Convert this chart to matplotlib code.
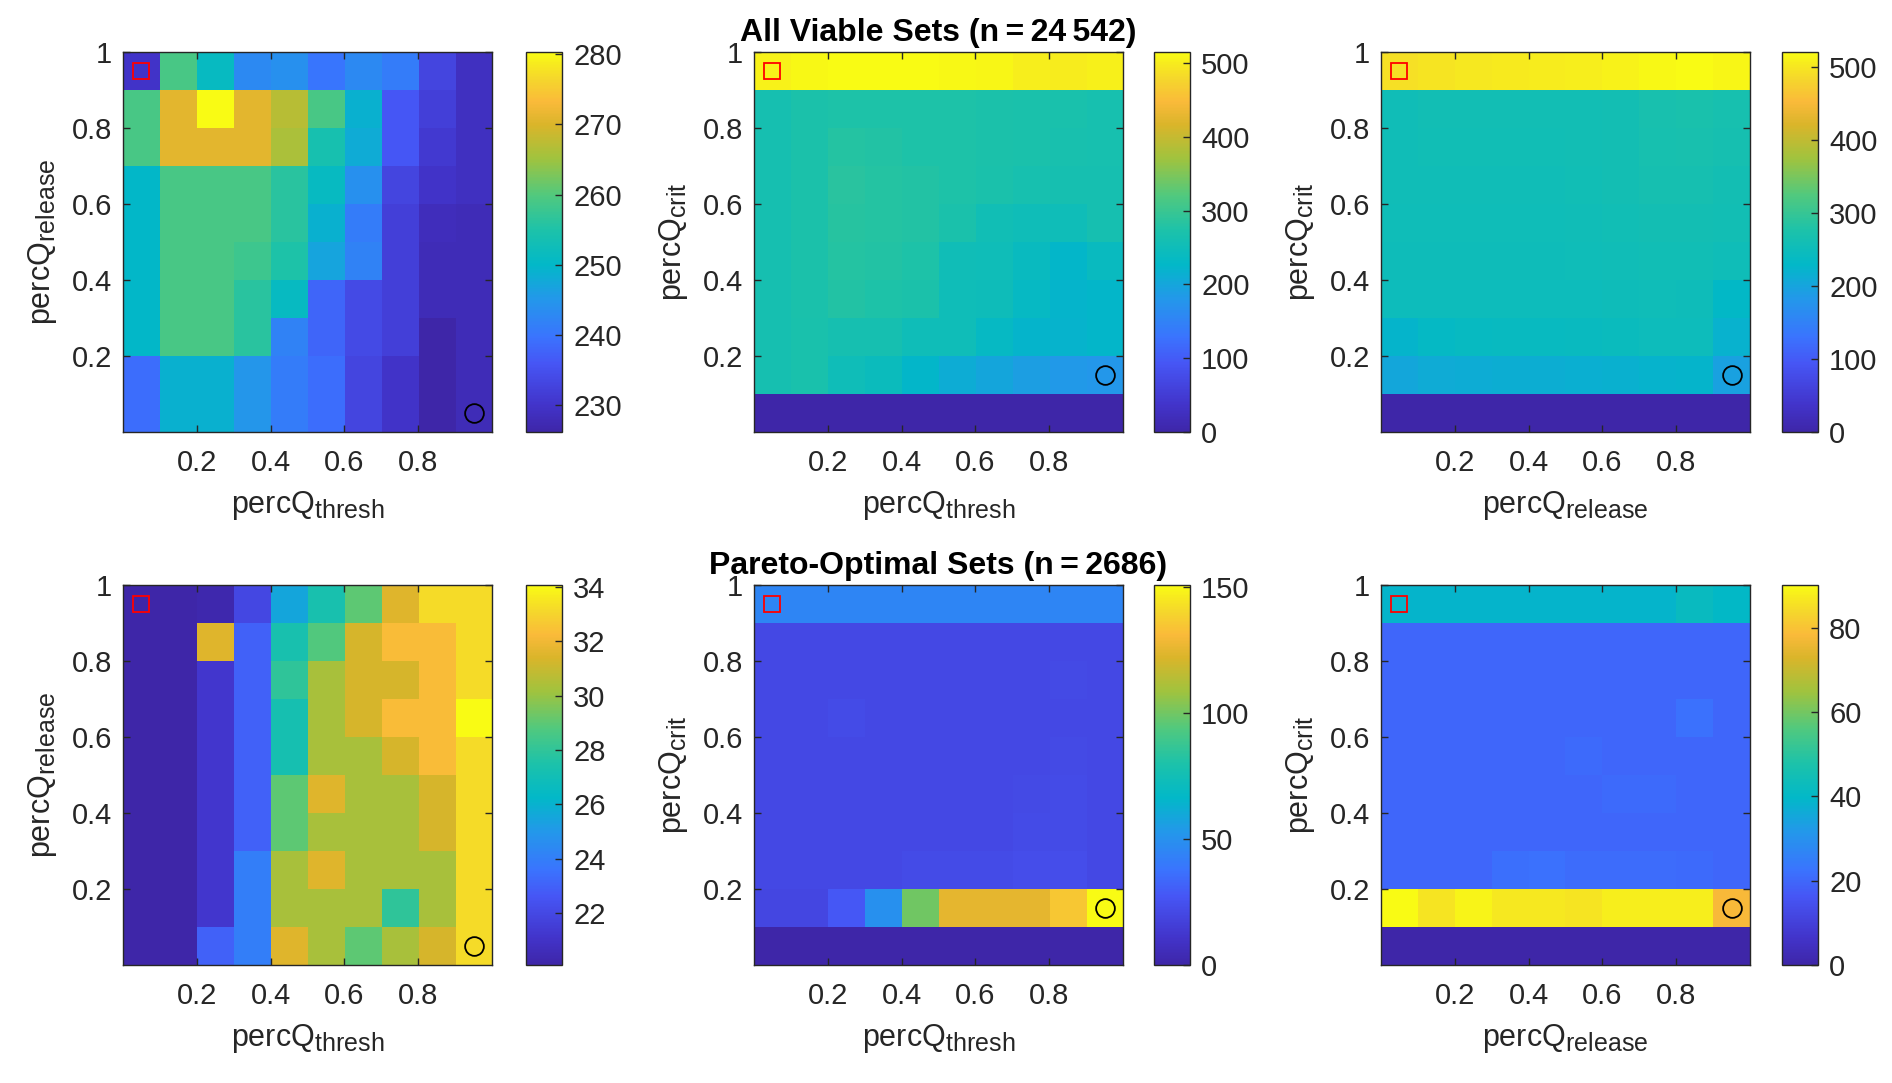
import numpy as np
import matplotlib
matplotlib.use("Agg")
import matplotlib.pyplot as plt
import matplotlib._mathtext as _mathtext
from matplotlib.colors import LinearSegmentedColormap

plt.rcParams['font.family'] = ['Liberation Sans', 'DejaVu Sans']
plt.rcParams['mathtext.fontset'] = 'custom'
plt.rcParams['mathtext.rm'] = 'Liberation Sans'
# MATLAB subscripts are larger than matplotlib's default 0.7
_mathtext.SHRINK_FACTOR = 0.82

# parula-like colormap (MATLAB default), anchors picked off the reference colorbars
parula_stops = [
    (0.00, (62, 38, 168)),
    (0.07, (66, 52, 202)),
    (0.18, (70, 86, 245)),
    (0.25, (58, 116, 254)),
    (0.35, (35, 152, 234)),
    (0.44, (2, 184, 200)),
    (0.53, (28, 194, 170)),
    (0.625, (82, 201, 125)),
    (0.72, (160, 195, 62)),
    (0.81, (218, 181, 42)),
    (0.87, (250, 186, 58)),
    (0.93, (245, 214, 44)),
    (1.00, (249, 251, 20)),
]
parula = LinearSegmentedColormap.from_list(
    'parula', [(p, tuple(v / 255 for v in c)) for p, c in parula_stops], N=256)

# rows listed from top (0.95) to bottom (0.05), columns 0.05 .. 0.95
all_thresh_release = [
    [230, 259, 251, 243, 244, 240, 243, 241, 233, 229],
    [259, 271, 280.3, 271, 267, 259, 249, 236, 232, 229],
    [259, 271, 271, 271, 266, 254, 248, 236, 231, 229],
    [250, 259, 259, 259, 256, 251, 244, 233, 230, 229],
    [250, 259, 259, 259, 256, 249, 241, 232, 228.5, 228],
    [250, 259, 259, 258, 255, 247, 242, 232, 228, 228],
    [250, 259, 259, 256, 251, 238, 234, 232, 228, 228],
    [250, 259, 259, 256, 242, 238, 234, 232, 226.2, 228],
    [239, 249, 249, 245, 241, 239, 233, 230, 226.2, 228],
    [239, 249, 249, 245, 241, 239, 233, 230, 226.2, 228],
]
all_thresh_crit = [
    [505, 512, 513, 514, 513, 512, 510, 502, 500, 503],
    [262, 272, 275, 275, 275, 275, 273, 270, 268, 265],
    [262, 272, 280, 278, 275, 275, 272, 270, 266, 264],
    [262, 272, 285, 280, 278, 275, 270, 265, 262, 262],
    [262, 272, 282, 280, 278, 270, 255, 250, 250, 262],
    [262, 272, 280, 278, 275, 252, 250, 240, 225, 240],
    [262, 270, 278, 275, 272, 250, 248, 235, 222, 225],
    [262, 268, 262, 262, 250, 250, 235, 222, 220, 225],
    [262, 268, 250, 245, 225, 210, 200, 190, 182, 180],
    [0, 0, 0, 0, 0, 0, 0, 0, 0, 0],
]
all_release_crit = [
    [492, 496, 500, 502, 504, 506, 510, 516, 520, 515],
    [255, 258, 258, 258, 258, 258, 262, 270, 272, 268],
    [255, 256, 256, 256, 256, 258, 262, 268, 270, 266],
    [254, 255, 255, 255, 255, 256, 260, 265, 266, 262],
    [252, 253, 253, 253, 253, 254, 256, 260, 262, 258],
    [250, 250, 250, 250, 250, 252, 254, 256, 256, 252],
    [248, 248, 248, 248, 248, 248, 250, 252, 250, 230],
    [225, 235, 238, 240, 240, 242, 245, 248, 248, 220],
    [205, 210, 212, 214, 214, 216, 218, 222, 225, 195],
    [0, 0, 0, 0, 0, 0, 0, 0, 0, 0],
]
par_thresh_release = [
    [20.1, 20.1, 20.3, 22.0, 25.5, 27.3, 29.0, 31.5, 33.2, 33.2],
    [20.1, 20.1, 31.5, 23.0, 27.3, 28.8, 31.3, 32.3, 32.3, 33.2],
    [20.1, 20.1, 21.2, 23.0, 28.0, 30.3, 31.3, 31.3, 32.3, 33.2],
    [20.1, 20.1, 21.2, 23.0, 27.2, 30.3, 31.3, 32.3, 32.3, 34.06],
    [20.1, 20.1, 21.2, 23.0, 27.2, 30.3, 30.3, 31.3, 32.3, 33.2],
    [20.1, 20.1, 21.2, 23.0, 29.0, 31.5, 30.3, 30.3, 31.3, 33.2],
    [20.1, 20.1, 21.2, 23.0, 29.0, 30.3, 30.3, 30.3, 31.3, 33.2],
    [20.1, 20.1, 21.2, 24.0, 30.3, 31.5, 30.3, 30.3, 30.3, 33.2],
    [20.1, 20.1, 21.2, 24.0, 30.3, 30.3, 30.3, 28.0, 30.3, 33.2],
    [20.1, 20.1, 23.0, 24.0, 31.5, 30.3, 29.0, 30.3, 31.3, 33.2],
]
par_thresh_crit = [
    [45, 45, 45, 45, 45, 45, 45, 45, 45, 45],
    [21, 21, 21, 21, 21, 21, 21, 21, 21, 21],
    [21, 21, 21, 21, 21, 21, 21, 21, 21.5, 21],
    [21, 21, 22, 21, 21, 21, 21, 21, 21, 21],
    [21, 21, 21, 21, 21, 21, 21, 21, 21.5, 21],
    [21, 21, 21, 21, 21, 21, 21, 21.5, 22, 21],
    [21, 21, 21, 21, 21, 21, 21, 22, 22, 21],
    [21, 21, 21, 21, 22, 22, 22, 23, 23, 21],
    [20, 20, 28, 50, 100, 125, 125, 125, 135, 150.6],
    [0, 0, 0, 0, 0, 0, 0, 0, 0, 0],
]
par_release_crit = [
    [39, 39, 39, 39, 39, 39, 39, 39, 42, 40],
    [20, 20, 20, 20, 20, 20, 20, 20, 20, 20],
    [20, 20, 20, 20, 20, 20, 20, 20, 20, 20],
    [20, 20, 20, 20, 20, 20, 20, 20, 22, 20],
    [20, 20, 20, 20, 20, 20.5, 20, 20, 20, 20],
    [20, 20, 20, 20, 20, 20, 20.5, 20.5, 20, 20],
    [20, 20, 20, 20, 20, 20, 20, 20, 20, 20],
    [20, 20, 20, 21.5, 22, 21, 21, 21, 20.5, 20],
    [90, 86, 89, 87, 87, 86, 88, 88, 88, 78],
    [0, 0, 0, 0, 0, 0, 0, 0, 0, 0],
]

panel_data = [all_thresh_release, all_thresh_crit, all_release_crit,
              par_thresh_release, par_thresh_crit, par_release_crit]
color_limits = [(226.2, 280.3), (0, 515), (0, 520),
                (20.1, 34.06), (0, 150.6), (0, 90.2)]
cbar_ticks = [[230, 240, 250, 260, 270, 280],
              [0, 100, 200, 300, 400, 500],
              [0, 100, 200, 300, 400, 500],
              [20, 22, 24, 26, 28, 30, 32, 34],
              [0, 50, 100, 150],
              [0, 20, 40, 60, 80]]
x_names = ['thresh', 'thresh', 'release', 'thresh', 'thresh', 'release']
y_names = ['release', 'crit', 'crit', 'release', 'crit', 'crit']
square_xy = [(0.05, 0.95)] * 6
circle_xy = [(0.95, 0.05), (0.95, 0.15), (0.95, 0.15),
             (0.95, 0.05), (0.95, 0.15), (0.95, 0.15)]
titles = {1: 'All Viable Sets (n\u2009=\u200924\u2009542)',
          4: 'Pareto-Optimal Sets (n\u2009=\u20092686)'}
x_ticks = [0.2, 0.4, 0.6, 0.8]
y_ticks = [0.2, 0.4, 0.6, 0.8, 1]

W, H = 1892, 1083
fig = plt.figure(figsize=(W / 100, H / 100), dpi=100)

ax_left = [123, 754, 1381]
cb_left = [526, 1154, 1782]
row_top = [52, 585]
ax_w, ax_h, cb_w = 369, 380, 36
grey = '#262626'

for i in range(6):
    r, c = divmod(i, 3)
    rect = [ax_left[c] / W, 1 - (row_top[r] + ax_h) / H, ax_w / W, ax_h / H]
    ax = fig.add_axes(rect)
    vmin, vmax = color_limits[i]
    im = ax.imshow(np.array(panel_data[i]), cmap=parula, vmin=vmin, vmax=vmax,
                   extent=(0, 1, 0, 1), origin='upper', aspect='auto',
                   interpolation='nearest')
    ax.plot(*square_xy[i], marker='s', ms=11.5, mfc='none', mec='red', mew=1.3)
    ax.plot(*circle_xy[i], marker='o', ms=13.5, mfc='none', mec='black', mew=1.3)
    ax.set_xlim(0, 1)
    ax.set_ylim(0, 1)
    ax.set_xticks(x_ticks)
    ax.set_yticks(y_ticks)
    ax.set_yticklabels(['0.2', '0.4', '0.6', '0.8', '1'])
    ax.tick_params(direction='in', top=True, right=True, length=5, width=1,
                   color=grey, labelcolor=grey, labelsize=21)
    ax.tick_params(axis='x', pad=12)
    ax.tick_params(axis='y', pad=8)
    for s in ax.spines.values():
        s.set_color(grey)
        s.set_linewidth(1)
    ax.set_xlabel('percQ$_{\\mathregular{%s}}$' % x_names[i], fontsize=22,
                  color=grey, labelpad=9)
    ax.set_ylabel('percQ$_{\\mathregular{%s}}$' % y_names[i], fontsize=22,
                  color=grey, labelpad=9)
    if i in titles:
        ax.set_title(titles[i], fontsize=23, fontweight='bold', pad=8)

    cax = fig.add_axes([cb_left[c] / W, rect[1], cb_w / W, rect[3]])
    cb = fig.colorbar(im, cax=cax, ticks=cbar_ticks[i])
    cb.outline.set_edgecolor(grey)
    cb.outline.set_linewidth(1)
    cax.tick_params(direction='in', length=5, width=1, color=grey,
                    labelcolor=grey, labelsize=21, pad=8)

fig.savefig('out.png', dpi=100)
